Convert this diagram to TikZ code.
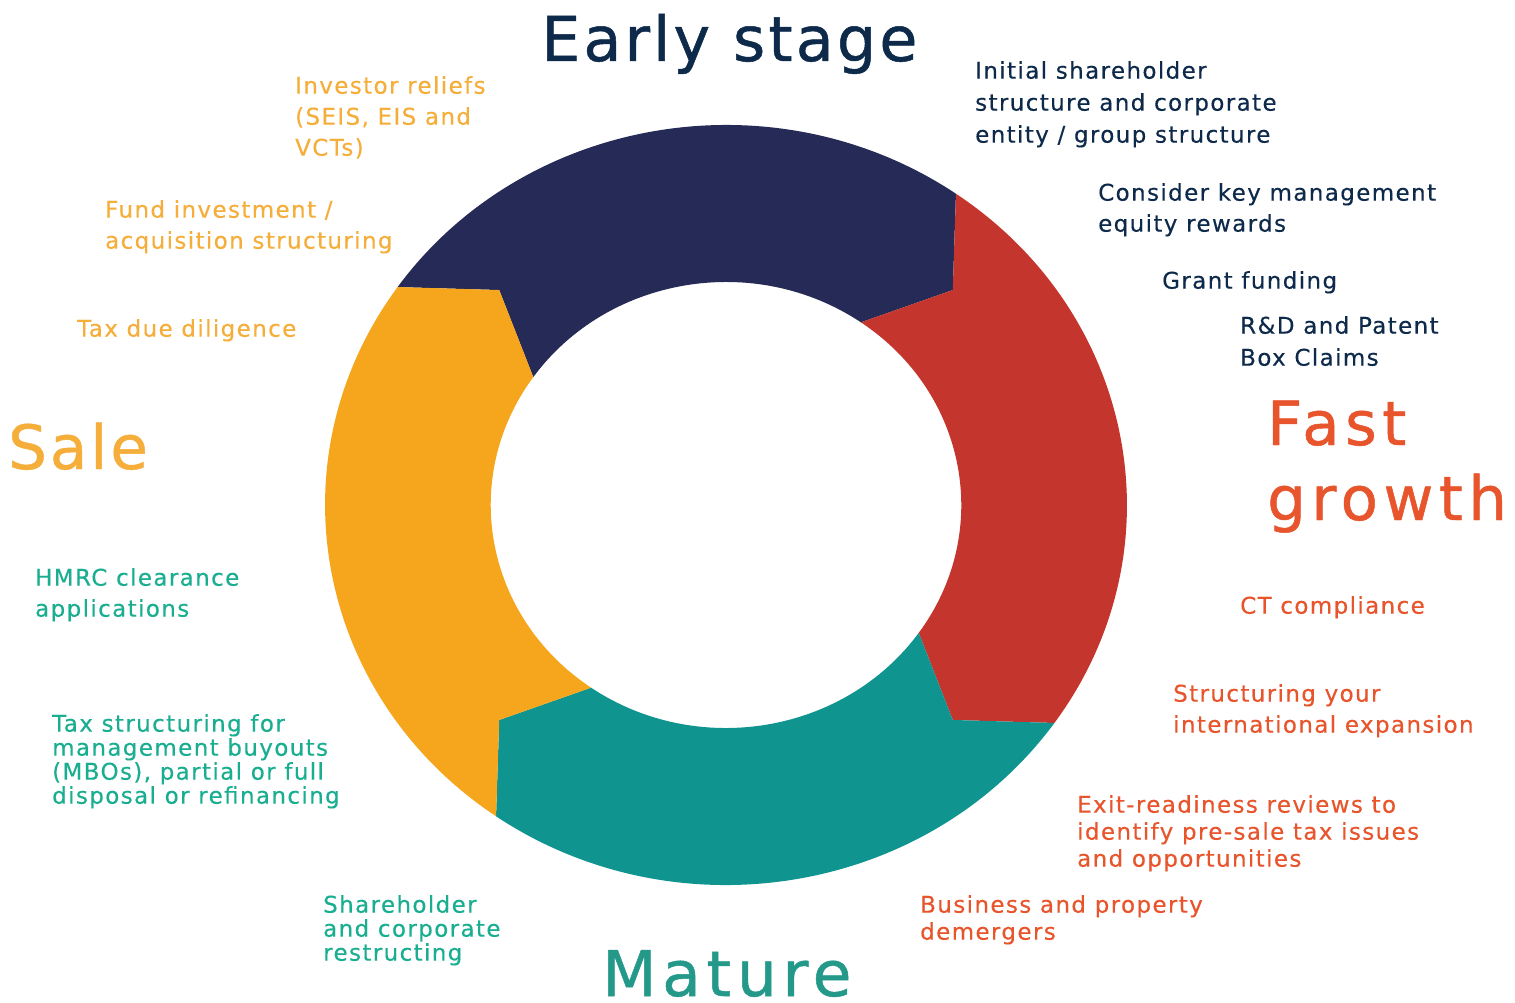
\documentclass[tikz,border=0pt]{standalone}
\usepackage{fontspec}
\setmainfont{DejaVu Sans}
\newfontfamily\labfont[LetterSpace=6,FakeBold=0.3]{DejaVu Sans}
\newfontfamily\headfont[LetterSpace=5,FakeBold=0.8]{DejaVu Sans}
\newfontfamily\headwide[LetterSpace=9,FakeBold=0.8]{DejaVu Sans}
\definecolor{ringnavy}{RGB}{37,42,86}
\definecolor{ringred}{RGB}{196,53,45}
\definecolor{ringteal}{RGB}{15,148,143}
\definecolor{ringorange}{RGB}{245,166,28}
\definecolor{txtnavy}{RGB}{14,42,75}
\definecolor{txtorange}{RGB}{245,174,58}
\definecolor{txtred}{RGB}{232,84,43}
\definecolor{txtteal}{RGB}{26,174,145}
\definecolor{txtmature}{RGB}{36,153,138}
\newcommand\ringseg[3]{%
  \fill[#1] (#2:380) arc[start angle=#2, end angle=#3, radius=380]
    -- (#3-10:304) -- (#3:223) arc[start angle=#3, end angle=#2, radius=223]
    -- (#2-10:304) -- cycle;}
\begin{document}
\begin{tikzpicture}[x=1pt,y=1pt,
  lab/.style={font=\labfont\fontsize{23}{31}\selectfont, align=left, inner sep=0pt, anchor=north west},
  labtight/.style={lab, font=\labfont\fontsize{23}{24}\selectfont},
  labmid/.style={lab, font=\labfont\fontsize{23}{27}\selectfont},
  head/.style={font=\headfont\fontsize{61}{75}\selectfont, align=left, inner sep=0pt, anchor=base west}]
\useasboundingbox (0,0) rectangle (1515,-1003);
\fill[white] (0,0) rectangle (1515,-1003);
\begin{scope}[shift={(726,-505)}, xscale=1.055]
  \ringseg{ringnavy}{145}{55}
  \ringseg{ringred}{55}{-35}
  \ringseg{ringteal}{-35}{-125}
  \ringseg{ringorange}{-125}{-215}
\end{scope}
% headings
\node[head, txtnavy, font=\headfont\fontsize{62}{75}\selectfont] (early) at (541,-61) {Early stage};
\node[head, txtorange] (sale) at (8,-469) {Sale};
\node[head, txtred, font=\headwide\fontsize{61}{75}\selectfont] (fast) at (1267,-520) {Fast\\growth};
\node[head, txtmature, font=\headwide\fontsize{63}{75}\selectfont] (mature) at (602,-996) {Mature};
% early stage labels
\node[lab, txtnavy, font=\labfont\fontsize{23}{32}\selectfont] (initial) at (975,-61) {Initial shareholder\\structure and corporate\\entity / group structure};
\node[lab, txtnavy] (consider) at (1098,-183) {Consider key management\\equity rewards};
\node[lab, txtnavy] (grant) at (1162,-271) {Grant funding};
\node[lab, txtnavy, font=\labfont\fontsize{23}{32}\selectfont] (rnd) at (1240,-316) {R\&D and Patent\\Box Claims};
% fast growth labels
\node[lab, txtred] (ct) at (1240,-596) {CT compliance};
\node[lab, txtred] (intl) at (1173,-684) {Structuring your\\international expansion};
\node[labmid, txtred] (exit) at (1077,-795) {Exit-readiness reviews to\\identify pre-sale tax issues\\and opportunities};
\node[labmid, txtred] (demerge) at (920,-895) {Business and property\\demergers};
% mature labels
\node[labtight, txtteal] (restr) at (323,-895) {Shareholder\\and corporate\\restructing};
\node[labtight, txtteal] (mbo) at (52,-714) {Tax structuring for\\management buyouts\\(MBOs), partial or full\\disposal or refinancing};
\node[lab, txtteal] (hmrc) at (35,-568) {HMRC clearance\\applications};
% sale labels
\node[lab, txtorange] (tdd) at (77,-319) {Tax due diligence};
\node[lab, txtorange] (fund) at (105,-200) {Fund investment /\\acquisition structuring};
\node[lab, txtorange] (inv) at (295,-76) {Investor reliefs\\(SEIS, EIS and\\VCTs)};
\end{tikzpicture}
\end{document}
